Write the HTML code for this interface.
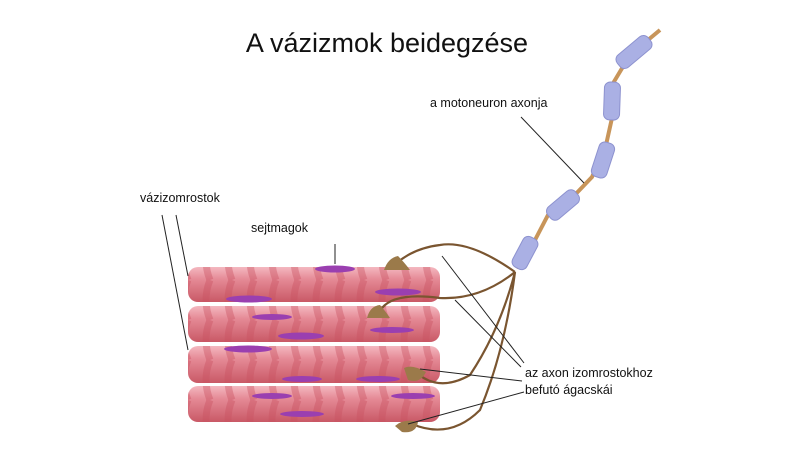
<!DOCTYPE html>
<html><head><meta charset="utf-8"><style>
html,body{margin:0;padding:0;background:#fff;}
svg{display:block;font-family:"Liberation Sans",sans-serif;}
</style></head><body>
<svg width="800" height="450" viewBox="0 0 800 450">
<defs>
<linearGradient id="fib" x1="0" y1="0" x2="0" y2="1">
<stop offset="0" stop-color="#f4b8c0"/><stop offset="0.35" stop-color="#e58a96"/><stop offset="1" stop-color="#c95966"/>
</linearGradient>
<pattern id="str" width="22" height="40" patternUnits="userSpaceOnUse">
<path d="M12 0 Q4 20 12 40" stroke="#c9505e" stroke-width="7" fill="none" opacity="0.4"/>
</pattern>
</defs>
<text x="387" y="52" font-size="27" text-anchor="middle" fill="#111">A vázizmok beidegzése</text>
<g>
<rect x="188" y="267" width="252" height="35" rx="10" fill="url(#fib)"/>
<rect x="188" y="267" width="252" height="35" rx="10" fill="url(#str)"/>
<rect x="188" y="306" width="252" height="36" rx="10" fill="url(#fib)"/>
<rect x="188" y="306" width="252" height="36" rx="10" fill="url(#str)"/>
<rect x="188" y="346" width="252" height="37" rx="10" fill="url(#fib)"/>
<rect x="188" y="346" width="252" height="37" rx="10" fill="url(#str)"/>
<rect x="188" y="386" width="252" height="36" rx="10" fill="url(#fib)"/>
<rect x="188" y="386" width="252" height="36" rx="10" fill="url(#str)"/>
</g>
<g fill="#9a3fb0">
<ellipse cx="335" cy="269" rx="20" ry="3.5"/><ellipse cx="398" cy="292" rx="23" ry="3.5"/><ellipse cx="249" cy="299" rx="23" ry="3.5"/>
<ellipse cx="272" cy="317" rx="20" ry="3"/><ellipse cx="392" cy="330" rx="22" ry="3"/><ellipse cx="301" cy="336" rx="23" ry="3.5"/>
<ellipse cx="248" cy="349" rx="24" ry="3.5"/><ellipse cx="302" cy="379" rx="20" ry="3"/><ellipse cx="378" cy="379" rx="22" ry="3"/>
<ellipse cx="272" cy="396" rx="20" ry="3"/><ellipse cx="413" cy="396" rx="22" ry="3"/><ellipse cx="302" cy="414" rx="22" ry="3"/>
</g>
<g stroke="#7a5530" stroke-width="2.2" fill="none">
<path d="M515 272 Q470 240 440 245 Q415 248 398 262"/>
<path d="M515 272 Q480 300 440 298 Q395 292 382 308"/>
<path d="M515 272 Q500 330 470 375 Q440 392 418 374"/>
<path d="M515 272 Q505 350 480 410 Q450 440 412 424"/>
</g>
<g fill="#9b7a4a">
<path d="M384 270 Q388 258 398 256 Q404 262 410 270 Z"/>
<path d="M367 318 Q370 306 380 305 Q386 312 390 318 Z"/>
<path d="M404 368 Q412 364 426 372 Q420 384 408 380 Z"/>
<path d="M395 426 Q404 418 418 422 Q416 434 402 432 Z"/>
</g>
<path d="M516 268 L535 240 L548 215 L570 200 L592 177 L606 145 L612 118 L612 85 L630 55 L660 30" stroke="#c8955a" stroke-width="4" fill="none"/>
<g fill="#aab0e4" stroke="#8d92cf" stroke-width="1">
<rect x="-8" y="-17" width="16" height="34" rx="6" transform="translate(525,253) rotate(28)"/>
<rect x="-8" y="-18" width="16" height="36" rx="6" transform="translate(563,205) rotate(50)"/>
<rect x="-8" y="-18" width="16" height="36" rx="6" transform="translate(603,160) rotate(18)"/>
<rect x="-8" y="-19" width="16" height="38" rx="6" transform="translate(612,101) rotate(2)"/>
<rect x="-8" y="-20" width="16" height="40" rx="6" transform="translate(634,52) rotate(50)"/>
</g>
<g stroke="#222" stroke-width="1" fill="none">
<line x1="162" y1="215" x2="188" y2="350"/><line x1="176" y1="215" x2="188" y2="276"/>
<line x1="335" y1="244" x2="335" y2="264"/>
<line x1="521" y1="117" x2="584" y2="183"/>
<line x1="524" y1="363" x2="442" y2="256"/><line x1="521" y1="367" x2="455" y2="300"/>
<line x1="522" y1="381" x2="420" y2="369"/><line x1="524" y1="392" x2="408" y2="424"/>
</g>
<g font-size="12.5" fill="#111">
<text x="140" y="202">vázizomrostok</text>
<text x="251" y="232">sejtmagok</text>
<text x="430" y="107">a motoneuron axonja</text>
<text x="525" y="377">az axon izomrostokhoz</text>
<text x="525" y="394">befutó ágacskái</text>
</g>
</svg>
</body></html>
